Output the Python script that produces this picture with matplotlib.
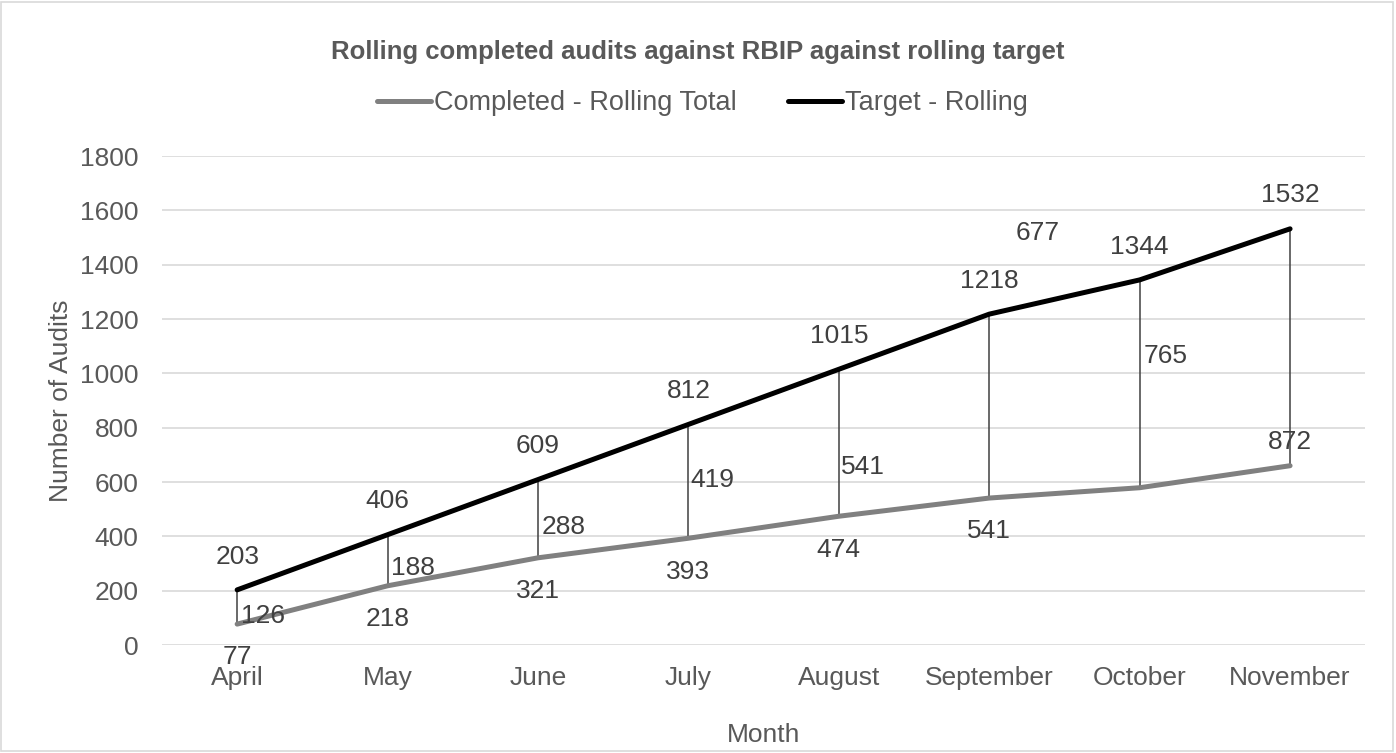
import numpy as np
import matplotlib as mpl
import matplotlib.pyplot as plt
from matplotlib.patches import Rectangle

mpl.rcParams["font.family"] = ["Liberation Sans", "DejaVu Sans"]

months = ["April", "May", "June", "July", "August", "September", "October", "November"]
completed = [77, 218, 321, 393, 474, 541, 579, 660]
target = [203, 406, 609, 812, 1015, 1218, 1344, 1532]
completed_labels = ["77", "218", "321", "393", "474", "541", "", ""]
gap = [t - c for t, c in zip(target, completed)]

# where Excel dropped the gap labels (x, y in data units)
gap_label_x = [0.17, 1.17, 2.17, 3.16, 4.16, 5.32, 6.17, 7.0]
gap_label_y = [107, 283, 434, 607, 655, 1517, 1064, 747]

text_col = "#595959"
label_col = "#404040"
grid_col = "#d9d9d9"

fig = plt.figure(figsize=(13.96, 7.53), dpi=100)
ax = fig.add_axes([0.116, 0.1434, 0.862, 0.6494])

x = np.arange(len(months))
ax.vlines(x, completed, target, color=label_col, lw=1.1, zorder=2)
l1, = ax.plot(x, completed, color="#808080", lw=3.6, solid_capstyle="round", zorder=3,
              label="Completed - Rolling Total")
l2, = ax.plot(x, target, color="black", lw=3.6, solid_capstyle="round", zorder=3,
              label="Target - Rolling")

fs = 19
for i in range(len(months)):
    ax.annotate(str(target[i]), (x[i], target[i]), xytext=(0, 24), textcoords="offset points",
                ha="center", va="center", fontsize=fs, color=label_col)
    if completed_labels[i]:
        ax.annotate(completed_labels[i], (x[i], completed[i]), xytext=(0, -24),
                    textcoords="offset points", ha="center", va="center",
                    fontsize=fs, color=label_col)
    ax.text(gap_label_x[i], gap_label_y[i], str(gap[i]), ha="center", va="center",
            fontsize=fs, color=label_col)

ax.set_xlim(-0.5, len(months) - 0.5)
ax.set_ylim(0, 1800)
ax.set_yticks(np.arange(0, 1801, 200))
ax.set_xticks(x)
ax.set_xticklabels(months)
ax.grid(axis="y", color=grid_col, lw=1.2)
ax.set_axisbelow(True)
for s in ax.spines.values():
    s.set_visible(False)
ax.tick_params(length=0, labelsize=fs, labelcolor=text_col)
ax.tick_params(axis="y", pad=17)
ax.tick_params(axis="x", pad=15)
ax.set_ylabel("Number of Audits", fontsize=fs, color=text_col, labelpad=5)
ax.set_xlabel("Month", fontsize=fs, color=text_col, labelpad=24)

fig.text(0.5, 0.931, "Rolling completed audits against RBIP against rolling target",
         ha="center", va="center", fontsize=18.5, fontweight="bold", color=text_col)
fig.legend(handles=[l1, l2], loc="center", bbox_to_anchor=(0.503, 0.863), ncol=2,
           frameon=False, fontsize=19.5, handlelength=2.0, handletextpad=0.1,
           columnspacing=1.9, labelcolor=text_col)

fig.patches.append(Rectangle((0.001, 0.002), 0.997, 0.995, transform=fig.transFigure,
                             fill=False, edgecolor=grid_col, lw=1.2))

fig.savefig("out.png", dpi=100)
